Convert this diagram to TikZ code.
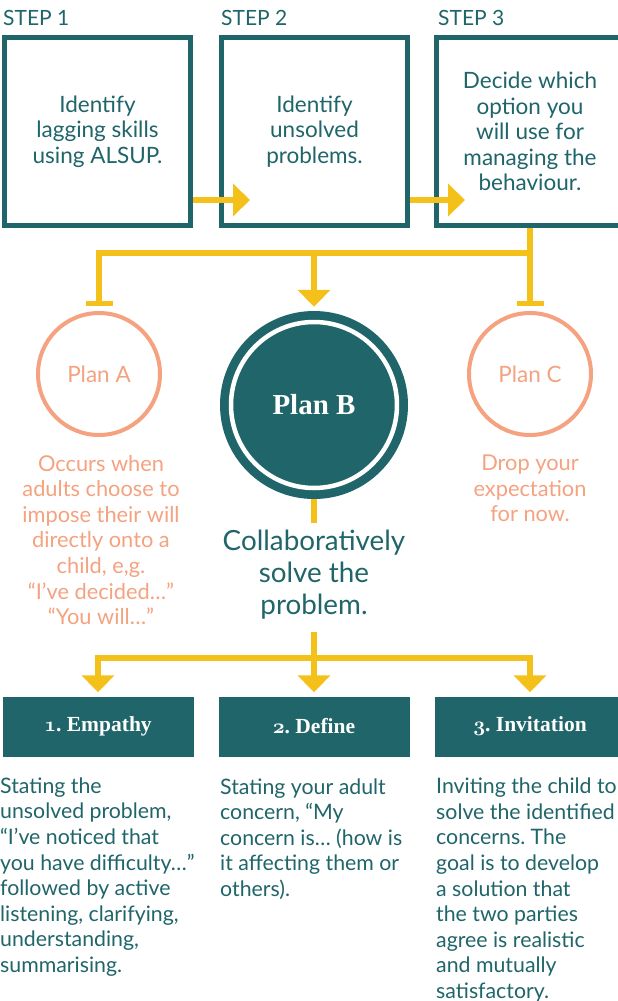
\documentclass[tikz,border=0pt]{standalone}
\usepackage{fontspec}
\setmainfont{Lato}
\newfontfamily\serifB{Liberation Serif}
\usetikzlibrary{arrows.meta}
\definecolor{myteal}{RGB}{31,101,105}
\definecolor{myyellow}{RGB}{243,193,26}
\definecolor{mysalmon}{RGB}{244,162,127}
\newcommand{\osn}[1]{{\usefont{OML}{cmm}{b}{it}#1}}
\frenchspacing
\begin{document}
\begin{tikzpicture}[x=1pt,y=-1pt,
  stepbox/.style={draw=myteal, line width=5pt, minimum height=188pt, inner sep=0pt,
    text=myteal, align=center, font=\fontsize{22.5}{25.6}\selectfont},
  steplabel/.style={anchor=west, inner sep=0pt, text=myteal, font=\fontsize{21}{24}\selectfont},
  yline/.style={draw=myyellow, line width=6pt},
  yarrow/.style={yline, -{Triangle[length=17pt,width=32pt]}},
  ybar/.style={yline, -{Bar[width=27pt,line width=5pt]}},
  plancirc/.style={circle, draw=mysalmon, line width=4pt, minimum size=122pt, inner sep=0pt,
    text=mysalmon, font=\fontsize{22.5}{25}\selectfont},
  salmontext/.style={text=mysalmon, align=center, inner sep=0pt, font=\fontsize{21.8}{25.6}\selectfont},
  tealbox/.style={fill=myteal, minimum width=191pt, minimum height=60pt, inner sep=0pt,
    text=white, font=\serifB\bfseries\fontsize{21.5}{26}\selectfont},
  desc/.style={anchor=west, align=left, inner sep=0pt, text=myteal, font=\fontsize{21.3}{25.6}\selectfont}
]
\useasboundingbox (0,0) rectangle (618,1001);

% step labels
\node[steplabel] (l1) at (3,18) {STEP 1};
\node[steplabel] (l2) at (221,18) {STEP 2};
\node[steplabel] (l3) at (438,18) {STEP 3};

% step boxes
\node[stepbox, minimum width=186pt] (s1) at (97.5,131.5) {Identify\\lagging skills\\using ALSUP.};
\node[stepbox, minimum width=186pt] (s2) at (314.5,131.5) {Identify\\unsolved\\problems.};
\node[stepbox, minimum width=187pt] (s3) at (530,131.5) {Decide which\\option you\\will use for\\managing the\\behaviour.};

\draw[yarrow] ([yshift=28pt]s1.south east) -- ([xshift=31pt,yshift=28pt]s2.south west);
\draw[yarrow] ([yshift=28pt]s2.south east) -- ([xshift=31pt,yshift=28pt]s3.south west);

% plans
\node[plancirc] (pa) at (99,374) {Plan A};
\node[plancirc] (pc) at (530,374) {Plan C};
\node[circle, fill=myteal, minimum size=188pt, inner sep=0pt, text=white,
      font=\serifB\bfseries\fontsize{29}{32}\selectfont] (pb) at (314,405) {Plan B};
\draw[white, line width=4.5pt] (pb.center) circle[radius=83pt];

\coordinate (jr) at (530,253);
\coordinate (jm) at (314,253);
\coordinate (jl) at (99,253);
\draw[ybar] (s3.south) -- (jr) -- (jl) -- ([yshift=5pt]pa.north);
\draw[ybar] (jr) -- ([yshift=5pt]pc.north);
\draw[yarrow] (jm) -- ([yshift=4pt]pb.north);

\node[salmontext] (ta) at (101,540) {Occurs when\\adults choose to\\impose their will\\directly onto a\\child, e,g.\\“I’ve decided…”\\“You will…”};
\node[salmontext] (tc) at (530,488.5) {Drop your\\expectation\\for now.};

\coordinate (cb) at (314,523);
\draw[yline] (pb.south) -- (cb);
\node[text=myteal, align=center, inner sep=0pt, font=\fontsize{27.8}{32}\selectfont] (collab) at (314,574.5)
  {Collaboratively\\solve the\\problem.};

% bottom branch
\node[tealbox] (e1) at (98,726.5) {\osn{1}. Empathy};
\node[tealbox] (e2) at (314,726.5) {\osn{2}. Define};
\node[tealbox] (e3) at (530,726.5) {\osn{3}. Invitation};

\coordinate (bt) at (314,632);
\coordinate (bj) at (314,658);
\coordinate (bl) at (98,658);
\coordinate (br) at (530,658);
\draw[yarrow] (bt) -- (bj) -- (bl) -- ([yshift=4pt]e1.north);
\draw[yarrow] (bj) -- (br) -- ([yshift=4pt]e3.north);
\draw[yarrow] (bj) -- ([yshift=4pt]e2.north);

% descriptions
\node[desc] (d1) at (0,877) {Stating the\\unsolved problem,\\“I’ve noticed that\\you have difficulty…”\\followed by active\\listening, clarifying,\\understanding,\\summarising.};
\node[desc] (d2) at (220,839) {Stating your adult\\concern, “My\\concern is… (how is\\it affecting them or\\others).};
\node[desc] (d3) at (436,890) {Inviting the child to\\solve the identified\\concerns. The\\goal is to develop\\a solution that\\the two parties\\agree is realistic\\and mutually\\satisfactory.};
\end{tikzpicture}
\end{document}
